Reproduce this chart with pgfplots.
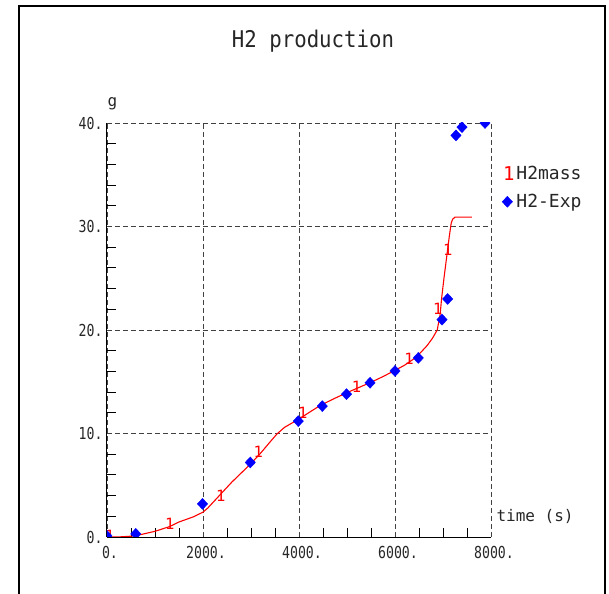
\documentclass[border=0pt]{standalone}
\usepackage{fontspec}
\setmainfont{DejaVu Sans Mono}
\newfontfamily\tickfont[FakeStretch=0.8]{DejaVu Sans Mono}
\newfontfamily\titlefont[FakeStretch=0.9]{DejaVu Sans Mono}
\usepackage{pgfplots}
\pgfplotsset{compat=1.18}

\begin{document}
\begin{tikzpicture}
\path[use as bounding box] (-107bp,-57bp) rectangle (502bp,537bp);
\begin{axis}[
  width=384bp, height=414bp, scale only axis,
  xmin=0, xmax=8000, ymin=0, ymax=40,
  clip marker paths=true,
  axis lines=left,
  axis line style={-, black, line width=1bp},
  tick align=inside,
  xtick={0,2000,4000,6000,8000},
  xticklabels={0.,2000.,4000.,6000.,8000.},
  ytick={0,10,20,30,40},
  yticklabels={0.,10.,20.,30.,40.},
  minor x tick num=3, minor y tick num=4,
  major tick length=0pt, minor tick length=9bp,
  tick style={black, line width=0.8bp},
  grid=major,
  major grid style={black!75, line width=0.9bp, dash pattern=on 5bp off 3bp},
  ticklabel style={font=\tickfont\fontsize{16.5bp}{16.5bp}\selectfont, text=black!85},
  xticklabel style={xshift=3bp, yshift=-6bp},
  yticklabel style={xshift=-1bp},
  every axis x label/.style={at={(rel axis cs:1,0)}, anchor=base west, xshift=2bp, yshift=16bp},
  xlabel={time (s)},
  xlabel style={font=\fontsize{16bp}{16bp}\selectfont, text=black!85},
  every axis y label/.style={at={(rel axis cs:0,1)}, anchor=base west, xshift=-3bp, yshift=16bp},
  ylabel={g},
  ylabel style={font=\fontsize{16bp}{16bp}\selectfont, text=black!85},
  title={H2 production},
  title style={at={(rel axis cs:0.5,1)}, anchor=base, xshift=14bp, yshift=70bp,
    font=\titlefont\fontsize{23bp}{23bp}\selectfont, text=black!85},
  legend style={draw=none, fill=none, at={(rel axis cs:1,0.905)}, anchor=north west,
    xshift=8bp, font=\fontsize{18bp}{18bp}\selectfont, text=black!85,
    row sep=9bp},
  legend cell align=left,
]
\addplot[red, line width=1.1bp, forget plot] coordinates {
  (0,0) (300,0.02) (580,0.1) (1000,0.55) (1300,1.0) (1500,1.45) (1800,1.95)
  (2000,2.4) (2100,2.8) (2200,3.3) (2400,4.3) (2600,5.3) (2800,6.2)
  (3000,7.1) (3200,8.1) (3400,9.2) (3540,9.95) (3700,10.6) (3850,11.0)
  (4000,11.4) (4200,12.0) (4440,12.7) (4700,13.3) (5000,13.95) (5250,14.45)
  (5500,14.95) (5750,15.5) (6000,16.1) (6200,16.6) (6420,17.3) (6550,17.9)
  (6670,18.5) (6780,19.2) (6880,20.0) (6940,21.5) (6970,23.0) (7020,25.0)
  (7075,27.0) (7130,29.0) (7170,30.3) (7200,30.7) (7250,30.9) (7600,30.9)
};
\addplot[red, only marks, mark=text, text mark={1}, text mark as node=true,
  text mark style={font=\fontsize{15.5bp}{15.5bp}\selectfont, text=red, inner sep=0pt},
  legend image code/.code={\node[text=red, font=\fontsize{19bp}{19bp}\selectfont,
    inner sep=0pt] at (4bp,0) {1};}] coordinates {
  (60,0.1) (1310,1.25) (2370,3.95) (3150,8.2) (4080,12.0) (5200,14.5)
  (6290,17.2) (6890,22.0) (7100,27.7)
};
\addlegendentry{H2mass}
\addplot[blue, only marks, mark=diamond*, mark size=5.5bp,
  mark options={xscale=1.25}] coordinates {
  (0,0.1) (600,0.3) (1990,3.2) (2985,7.2) (3985,11.2) (4485,12.65)
  (4990,13.8) (5480,14.9) (6000,16.04) (6485,17.3) (6980,21.0) (7097,23.0)
  (7270,38.8) (7395,39.6) (7875,40.0)
};
\addlegendentry{H2-Exp}
\end{axis}
\draw[black, line width=1.2bp] (-88bp,-60bp) -- (-88bp,531bp) -- (498bp,531bp) -- (498bp,-60bp);
\end{tikzpicture}
\end{document}
